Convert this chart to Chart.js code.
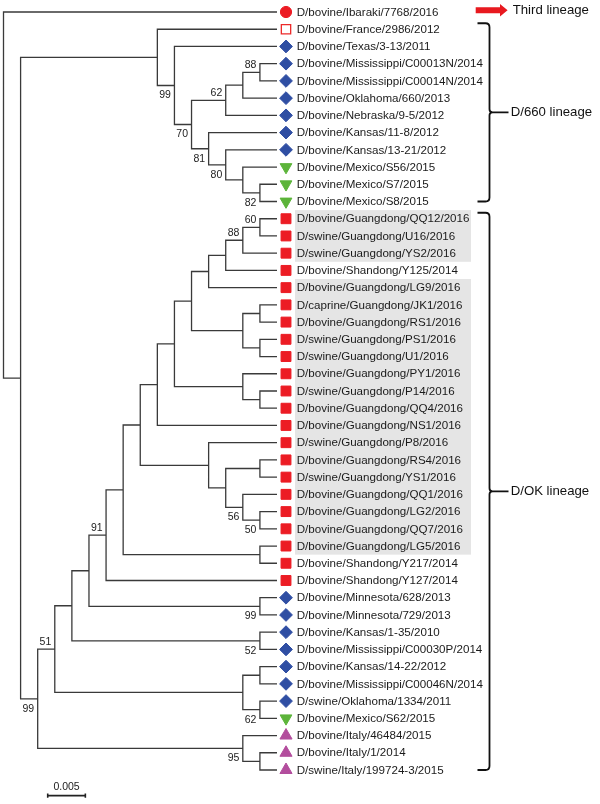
<!DOCTYPE html>
<html><head><meta charset="utf-8">
<script src="https://cdn.jsdelivr.net/npm/chart.js@4.4.1/dist/chart.umd.min.js"></script>
<style>html,body{margin:0;padding:0;background:#fff;}#wrap{width:600px;height:804px;}</style>
</head><body><div id="wrap"><canvas id="c" width="600" height="804"></canvas></div>
<script>
// ---- Data ----
const leafNames = [
 'D/bovine/Ibaraki/7768/2016','D/bovine/France/2986/2012','D/bovine/Texas/3-13/2011',
 'D/bovine/Mississippi/C00013N/2014','D/bovine/Mississippi/C00014N/2014','D/bovine/Oklahoma/660/2013',
 'D/bovine/Nebraska/9-5/2012','D/bovine/Kansas/11-8/2012','D/bovine/Kansas/13-21/2012',
 'D/bovine/Mexico/S56/2015','D/bovine/Mexico/S7/2015','D/bovine/Mexico/S8/2015',
 'D/bovine/Guangdong/QQ12/2016','D/swine/Guangdong/U16/2016','D/swine/Guangdong/YS2/2016',
 'D/bovine/Shandong/Y125/2014','D/bovine/Guangdong/LG9/2016','D/caprine/Guangdong/JK1/2016',
 'D/bovine/Guangdong/RS1/2016','D/swine/Guangdong/PS1/2016','D/swine/Guangdong/U1/2016',
 'D/bovine/Guangdong/PY1/2016','D/swine/Guangdong/P14/2016','D/bovine/Guangdong/QQ4/2016',
 'D/bovine/Guangdong/NS1/2016','D/swine/Guangdong/P8/2016','D/bovine/Guangdong/RS4/2016',
 'D/swine/Guangdong/YS1/2016','D/bovine/Guangdong/QQ1/2016','D/bovine/Guangdong/LG2/2016',
 'D/bovine/Guangdong/QQ7/2016','D/bovine/Guangdong/LG5/2016','D/bovine/Shandong/Y217/2014',
 'D/bovine/Shandong/Y127/2014','D/bovine/Minnesota/628/2013','D/bovine/Minnesota/729/2013',
 'D/bovine/Kansas/1-35/2010','D/bovine/Mississippi/C00030P/2014','D/bovine/Kansas/14-22/2012',
 'D/bovine/Mississippi/C00046N/2014','D/swine/Oklahoma/1334/2011','D/bovine/Mexico/S62/2015',
 'D/bovine/Italy/46484/2015','D/bovine/Italy/1/2014','D/swine/Italy/199724-3/2015'
];
// C circle, O open square, D diamond, V down-triangle, S square, T triangle
const leafSymbols = ['C','O','D','D','D','D','D','D','D','V','V','V',
 'S','S','S','S','S','S','S','S','S','S','S','S','S','S','S','S','S','S','S','S','S','S',
 'D','D','D','D','D','D','D','V','T','T','T'];
const tipDepth = 0.03632;
const nodeNames    = ['root','A','B','C','D','E','G','H','F','I','J','K',
  'L','M','P','T','V','X','Y','AA','AC','AD','AF','AH','AH1','AH2','AG','AG1','AG2','AE','AE1',
  'AB','AI','AI1','AJ','AK','Z','W','U','Q','R','S','N','O'];
const nodeDepths   = [0,0.00227,0.02043,0.0227,0.02497,0.02951,0.03178,0.03405,0.02724,0.02951,0.03178,0.03405,
  0.00454,0.00681,0.00908,0.01135,0.01362,0.01589,0.01816,0.02043,0.0227,0.02497,0.02724,0.02951,0.03178,0.03405,0.03178,0.03405,0.03405,0.03178,0.03405,
  0.02724,0.02951,0.03405,0.03178,0.03405,0.03405,0.03405,0.03405,0.03178,0.03405,0.03405,0.03178,0.03405];
const nodeChildren = [[1,'A'],['B','L'],[2,'C'],[3,'D'],['E','F'],['G',7],['H',6],[4,5],[8,'I'],[9,'J'],[10,'K'],[11,12],
  ['M','N'],['P','Q'],['T','U'],['V','W'],['X',34],['Y','Z'],['AA','AB'],['AC',25],['AD','AE'],['AF','AG'],['AH',17],['AH1',16],['AH2',15],[13,14],['AG1','AG2'],[18,19],[20,21],[22,'AE1'],[23,24],
  [26,'AI'],['AI1','AJ'],[27,28],[29,'AK'],[30,31],[32,33],[35,36],[37,38],['R','S'],[39,40],[41,42],[43,'O'],[44,45]];
const nodeSupport  = [null,null,null,99,70,62,null,88,81,80,null,82,
  99,51,null,null,91,null,null,null,null,null,null,null,88,60,null,null,null,null,null,
  null,null,null,56,50,null,99,52,null,null,62,95,null];
const highlightRanges = [[13,15],[17,32]];
const lineageLabels = ['D/660 lineage','D/OK lineage'];
const lineageRanges = [[2,12],[13,45]];
const arrowLabel = 'Third lineage';
const arrowLeaf = 1;
const scaleBarValue = 0.005;
const scaleBarLabel = '0.005';

// ---- Layout from data ----
const idx = {}; nodeNames.forEach((n,i)=>idx[n]=i);
const depthOf = c => typeof c === 'number' ? tipDepth : nodeDepths[idx[c]];
const yCache = {};
function yOf(c){
  if (typeof c === 'number') return c;
  if (yCache[c] !== undefined) return yCache[c];
  const ch = nodeChildren[idx[c]];
  return (yCache[c] = (yOf(ch[0]) + yOf(ch[ch.length-1])) / 2);
}
const parentSide = {};
nodeChildren.forEach(ch => { ch.forEach((c,k)=>{ if (typeof c !== 'number') parentSide[c] = k === 0 ? 'above' : 'below'; }); });

const branchPts = [];
nodeNames.forEach((n,i) => {
  const d = nodeDepths[i], ch = nodeChildren[i];
  const c0 = ch[0], c1 = ch[ch.length-1];
  branchPts.push({x: depthOf(c0), y: yOf(c0)}, {x: d, y: yOf(c0)}, {x: d, y: yOf(c1)}, {x: depthOf(c1), y: yOf(c1)}, {x: NaN, y: NaN});
});

const xMin = -0.000465, xMax = 0.079213, yMin = 0.3034, yMax = 46.974;
const unitsPerPx = (xMax - xMin) / 600;
const markerX = tipDepth + 9 * unitsPerPx;
const symStyle = {
  C: {pointStyle:'circle', radius:5.6, bg:'#ec1c24', bc:'#ec1c24', bw:1, rot:0},
  O: {pointStyle:'rect', radius:6.6, bg:'#ffffff', bc:'#ec2a2a', bw:1.3, rot:0},
  D: {pointStyle:'rectRot', radius:6.4, bg:'#2f4ea3', bc:'#2f4ea3', bw:1, rot:0},
  V: {pointStyle:'triangle', radius:6.8, bg:'#5cb43a', bc:'#5cb43a', bw:1, rot:180},
  S: {pointStyle:'rect', radius:7.0, bg:'#ec1c24', bc:'#ec1c24', bw:1, rot:0},
  T: {pointStyle:'triangle', radius:7.0, bg:'#b34d9d', bc:'#b34d9d', bw:1, rot:0}
};
const markerSets = Object.keys(symStyle).map(k => {
  const s = symStyle[k];
  return {
    type:'line', showLine:false, clip:false,
    data: leafSymbols.map((sym,i)=> sym===k ? {x: markerX, y: i+1} : null).filter(Boolean),
    pointStyle: s.pointStyle, pointRadius: s.radius, pointRotation: s.rot,
    pointBackgroundColor: s.bg, pointBorderColor: s.bc, pointBorderWidth: s.bw
  };
});
const sbX0 = 0.00587, sbY = 46.49, sbTick = 0.12;
const scaleBarPts = [
  {x: sbX0, y: sbY}, {x: sbX0 + scaleBarValue, y: sbY}, {x: NaN, y: NaN},
  {x: sbX0, y: sbY - sbTick}, {x: sbX0, y: sbY + sbTick}, {x: NaN, y: NaN},
  {x: sbX0 + scaleBarValue, y: sbY - sbTick}, {x: sbX0 + scaleBarValue, y: sbY + sbTick}
];

const FONT = '"Liberation Sans", Arial, sans-serif';
const annot = {
  id: 'annot',
  beforeDatasetsDraw(chart){
    const {ctx, scales:{x, y}} = chart;
    const labelX = x.getPixelForValue(tipDepth) + 19.7;
    ctx.save(); ctx.fillStyle = '#e5e5e5';
    highlightRanges.forEach(([a,b]) => {
      const y0 = y.getPixelForValue(a - 0.5), y1 = y.getPixelForValue(b + 0.5);
      ctx.fillRect(labelX - 1.7, y0, 176, y1 - y0);
    });
    ctx.restore();
  },
  afterDatasetsDraw(chart){
    const {ctx, scales:{x, y}} = chart;
    const labelX = x.getPixelForValue(tipDepth) + 19.7;
    ctx.save();
    ctx.fillStyle = '#1a1a1a'; ctx.textBaseline = 'middle';
    ctx.font = '11.6px ' + FONT; ctx.textAlign = 'left';
    leafNames.forEach((n,i) => ctx.fillText(n, labelX, y.getPixelForValue(i+1) + 0.5));
    ctx.font = '10.5px ' + FONT; ctx.textAlign = 'right'; ctx.fillStyle = '#222';
    nodeNames.forEach((n,i) => {
      if (nodeSupport[i] == null) return;
      const px = x.getPixelForValue(nodeDepths[i]) - 3.5;
      const py = y.getPixelForValue(yOf(n)) + (parentSide[n] === 'above' ? -7 : 10);
      ctx.fillText(String(nodeSupport[i]), px, py);
    });
    // brackets
    ctx.strokeStyle = '#111'; ctx.lineWidth = 1.8; ctx.lineJoin = 'round';
    const bx = 489.5;
    ctx.font = '13.2px ' + FONT; ctx.textAlign = 'left'; ctx.fillStyle = '#111';
    lineageRanges.forEach(([a,b],k) => {
      const top = y.getPixelForValue(a) - 6, bot = y.getPixelForValue(b);
      const mid = (top + bot) / 2;
      ctx.beginPath();
      ctx.moveTo(477.5, top);
      ctx.lineTo(bx - 4, top);
      ctx.quadraticCurveTo(bx, top, bx, top + 4);
      ctx.lineTo(bx, mid - 3);
      ctx.quadraticCurveTo(bx, mid, bx + 3, mid);
      ctx.quadraticCurveTo(bx, mid, bx, mid + 3);
      ctx.lineTo(bx, bot - 4);
      ctx.quadraticCurveTo(bx, bot, bx - 4, bot);
      ctx.lineTo(477.5, bot);
      ctx.moveTo(bx + 2, mid); ctx.lineTo(508.5, mid);
      ctx.stroke();
      ctx.fillText(lineageLabels[k], 510.7, mid + 0.5);
    });
    // arrow
    const ay = y.getPixelForValue(arrowLeaf) - 1.7;
    ctx.fillStyle = '#e8191f';
    ctx.beginPath();
    ctx.moveTo(475.7, ay - 3); ctx.lineTo(500, ay - 3); ctx.lineTo(500, ay - 6.3);
    ctx.lineTo(507.6, ay); ctx.lineTo(500, ay + 6.3); ctx.lineTo(500, ay + 3); ctx.lineTo(475.7, ay + 3);
    ctx.closePath(); ctx.fill();
    ctx.fillStyle = '#111';
    ctx.fillText(arrowLabel, 512.7, ay);
    // scale bar label
    ctx.font = '10.5px ' + FONT; ctx.textAlign = 'center'; ctx.fillStyle = '#222';
    ctx.fillText(scaleBarLabel, x.getPixelForValue(sbX0 + scaleBarValue/2), y.getPixelForValue(sbY) - 9);
    ctx.restore();
  }
};

new Chart(document.getElementById('c'), {
  type: 'line',
  data: { datasets: [
    { type:'line', data: branchPts, borderColor:'#3a3a3a', borderWidth:1.3, pointRadius:0, spanGaps:false,
      tension:0, borderJoinStyle:'miter', borderCapStyle:'butt', clip:false },
    { type:'line', data: scaleBarPts, borderColor:'#222', borderWidth:1.6, pointRadius:0, spanGaps:false, clip:false },
    ...markerSets
  ]},
  options: {
    responsive:false, animation:false, devicePixelRatio:1, events:[],
    layout:{padding:0, autoPadding:false},
    parsing: true,
    scales: {
      x: {type:'linear', min:xMin, max:xMax, display:false},
      y: {type:'linear', min:yMin, max:yMax, reverse:true, display:false}
    },
    plugins: {legend:{display:false}, tooltip:{enabled:false}}
  },
  plugins:[annot]
});
</script></body></html>
